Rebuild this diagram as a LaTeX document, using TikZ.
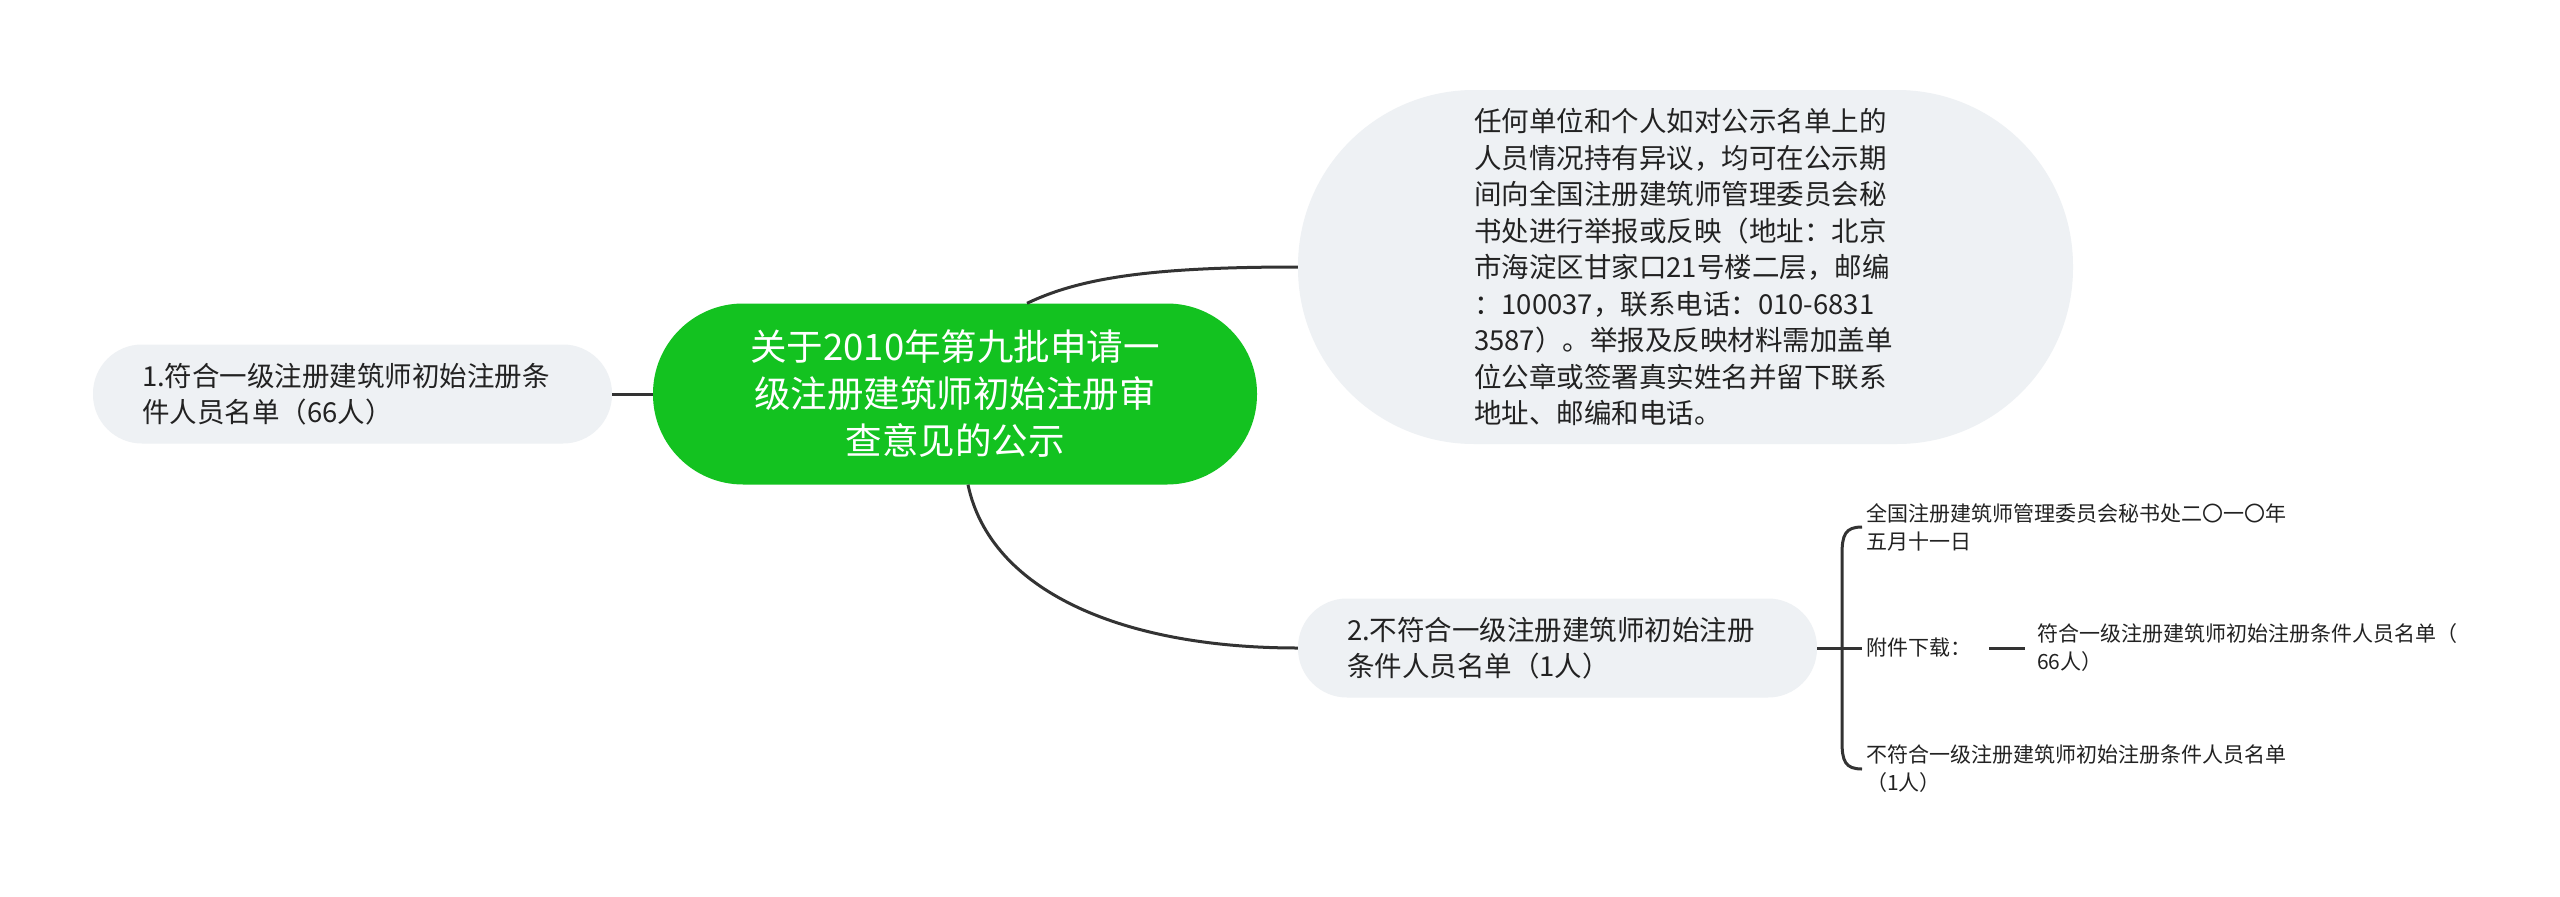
\documentclass[tikz,border=0pt]{standalone}
\usepackage{fontspec}
\setmainfont{Noto Sans CJK SC}
\usetikzlibrary{calc}
\definecolor{rootgreen}{RGB}{19,194,32}
\definecolor{nodegray}{RGB}{238,241,244}
\definecolor{linegray}{RGB}{51,51,51}
\definecolor{txt}{RGB}{34,34,34}
\begin{document}
\begin{tikzpicture}[x=1pt,y=-1pt,
  rootbox/.style={fill=rootgreen, text=white, rounded corners=90pt, minimum width=604pt, minimum height=181pt, align=center, inner sep=0pt, font=\fontsize{36.5}{47}\selectfont},
  subbox/.style={fill=nodegray, text=txt, align=left, inner sep=0pt, font=\fontsize{27.5}{36.5}\selectfont},
  leafbox/.style={text=txt, align=left, inner xsep=4pt, inner ysep=0pt, anchor=west, font=\fontsize{21}{28}\selectfont},
  conn/.style={draw=linegray, line width=3pt},
]
\useasboundingbox[fill=white] (0,0) rectangle (2560,897);

\node[rootbox] (root) at (955,394) {关于2010年第九批申请一\\级注册建筑师初始注册审\\查意见的公示};

\node[subbox, minimum width=519pt, minimum height=99pt, rounded corners=49pt, text width=421pt] (n1) at (352.5,394)
  {1.符合一级注册建筑师初始注册条\\件人员名单（66人）};

\node[subbox, minimum width=775pt, minimum height=354pt, rounded corners=176pt, text width=423pt] (tr) at (1685.5,267)
  {任何单位和个人如对公示名单上的\\人员情况持有异议，均可在公示期\\间向全国注册建筑师管理委员会秘\\书处进行举报或反映（地址：北京\\市海淀区甘家口21号楼二层，邮编\\：100037，联系电话：010-6831\\3587）。举报及反映材料需加盖单\\位公章或签署真实姓名并留下联系\\地址、邮编和电话。};

\node[subbox, minimum width=519pt, minimum height=99pt, rounded corners=49pt, text width=421pt] (n2) at (1557.5,648)
  {2.不符合一级注册建筑师初始注册\\条件人员名单（1人）};

\node[leafbox] (t1) at (1862,527) {全国注册建筑师管理委员会秘书处二〇一〇年\\五月十一日};
\node[leafbox] (fj) at (1862,648) {附件下载：};
\node[leafbox] (att) at (2033,648) {符合一级注册建筑师初始注册条件人员名单（\\66人）};
\node[leafbox] (t3) at (1862,769) {不符合一级注册建筑师初始注册条件人员名单\\（1人）};

\draw[conn] (n1.east) -- (root.west);
\draw[conn] ($(root.north)+(72,0)$) .. controls (1080,278) and (1150,267) .. (tr.west);
\draw[conn] ($(root.south)+(13,0)$) .. controls (990,590) and (1120,648) .. (n2.west);
\draw[conn] (n2.east) -- (fj.west);
\draw[conn] (t1.west) .. controls (1845,527) and (1842,535) .. (1842,555) -- (1842,741) .. controls (1842,761) and (1845,769) .. (t3.west);
\draw[conn] ($(fj.east)+(14,0)$) -- ($(att.west)+(-8,0)$);
\end{tikzpicture}
\end{document}
